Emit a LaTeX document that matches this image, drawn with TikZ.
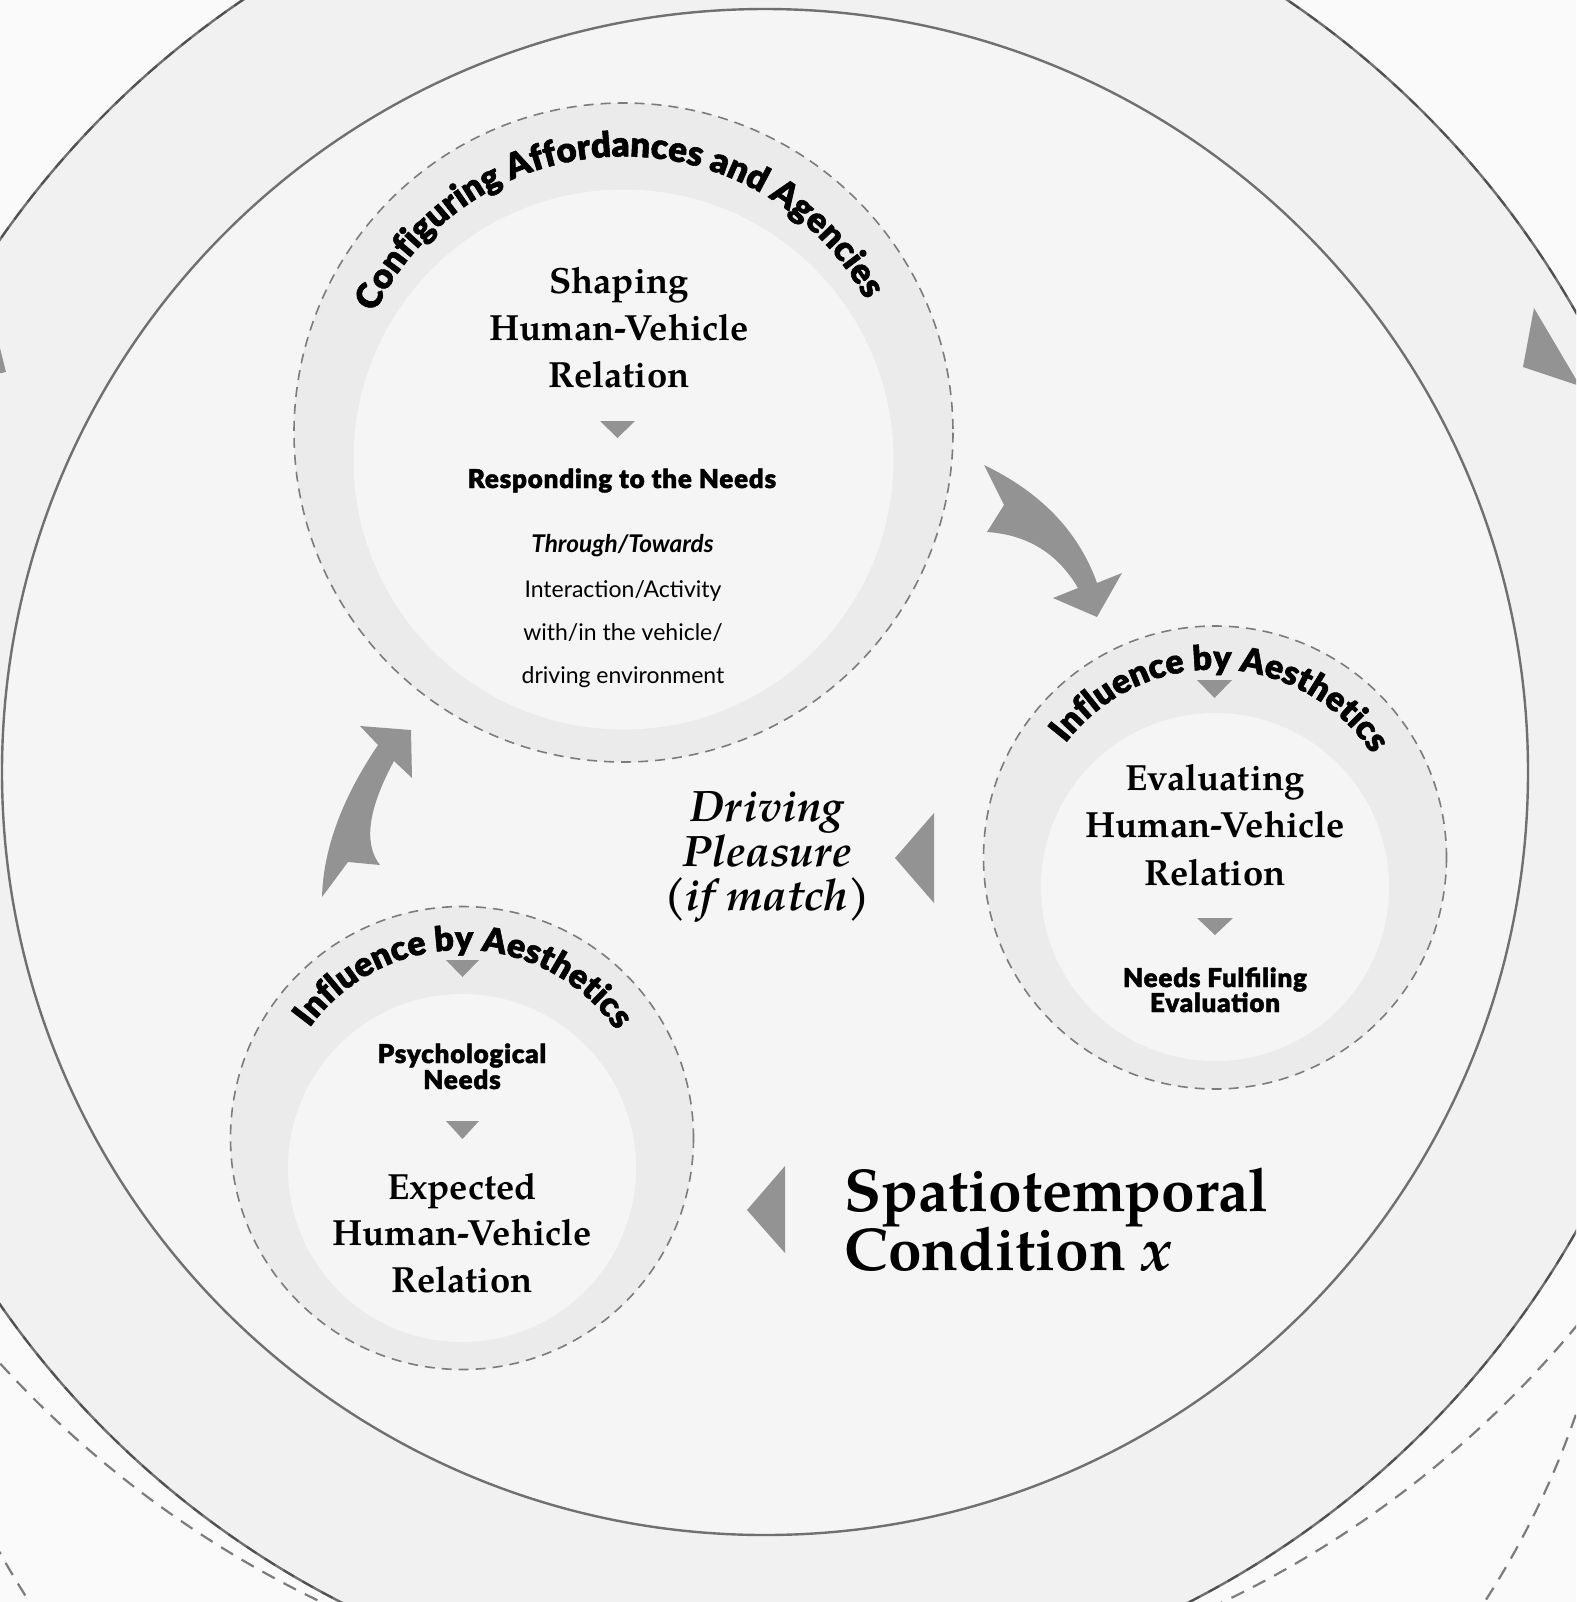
\documentclass[tikz,border=0pt]{standalone}
\usepackage{fontspec}
\setmainfont{TeX Gyre Pagella}
\newfontfamily\latoblack{Lato Black}[FakeBold=1.6, LetterSpace=3]
\newfontfamily\ringlato{Lato Black}[FakeBold=1.6]
\newfontfamily\lato{Lato}
\usetikzlibrary{decorations.text}
\definecolor{pageout}{HTML}{FAFAFA}
\definecolor{bandfill}{HTML}{F1F1F1}
\definecolor{corefill}{HTML}{F5F5F5}
\definecolor{ringfill}{HTML}{EBEBEB}
\definecolor{edgegray}{HTML}{707070}
\definecolor{dashgray}{HTML}{7C7C7C}
\definecolor{darkdash}{HTML}{505050}
\definecolor{arrowgray}{HTML}{939393}
\newcommand{\ringfont}{\ringlato\fontsize{17.5}{17.5}\selectfont}
\newcommand{\smallringfont}{\ringlato\fontsize{17}{17}\selectfont}
\tikzset{
  farring/.style={draw=dashgray, line width=1.1pt, dash pattern=on 7pt off 5pt},
  band/.style={fill=bandfill, draw=edgegray, line width=1.2pt},
  bandoverlay/.style={draw=darkdash, line width=1pt, dash pattern=on 6pt off 5pt},
  core/.style={fill=corefill, draw=edgegray, line width=1.2pt},
  cyclering/.style={fill=ringfill, draw=dashgray, line width=0.8pt, dash pattern=on 5pt off 3.5pt},
  cyclecore/.style={fill=corefill},
  pointer/.style={fill=arrowgray},
  serifhead/.style={font=\bfseries\fontsize{18.2}{20}\selectfont, anchor=base, inner sep=0pt},
  heavylabel/.style={font=\latoblack\fontsize{13}{14}\selectfont, anchor=base, inner sep=0pt},
  plainlabel/.style={font=\lato\fontsize{11.5}{13}\selectfont, anchor=base, inner sep=0pt},
  pleasure/.style={font=\bfseries\itshape\fontsize{22}{24}\selectfont, anchor=base, inner sep=0pt},
  condition/.style={font=\bfseries\fontsize{30.2}{32}\selectfont, anchor=base west, inner sep=0pt},
  ringtext/.style={decorate, decoration={text along path, text align=center, text={|\ringfont|#1}}},
  smallringtext/.style={decorate, decoration={text along path, text align=center, text={|\smallringfont|#1}}}
}

\begin{document}
\begin{tikzpicture}[x=0.5pt, y=-0.5pt]
  \path[use as bounding box] (0,0) rectangle (1576,1602);
  \clip (0,0) rectangle (1576,1602);
  \fill[pageout] (0,0) rectangle (1576,1602);

  % neighbouring cycles, cut by the page
  \draw[farring] (772,659) circle[radius=1045];
  \draw[farring] (757,1132) circle[radius=866];

  % condition x
  \coordinate (mid) at (765,772);
  \filldraw[band] (mid) circle[radius=932];
  \draw[bandoverlay] (mid) circle[radius=932];
  \filldraw[core] (mid) circle[radius=763];
  \fill[pointer] (1534,308) -- (1523,367) -- (1580,386) -- cycle;
  \fill[pointer] (-2,340) -- (6,372) -- (-30,380) -- cycle;

  % three cycle circles
  \coordinate (cfgO) at (623.5,432.5);
  \coordinate (evalO) at (1215,857.5);
  \coordinate (expO) at (462,1138);
  \filldraw[cyclering] (cfgO) circle[radius=329.5];
  \fill[cyclecore] (623.5,459.5) circle[radius=270];
  \filldraw[cyclering] (evalO) circle[radius=231.5];
  \fill[cyclecore] (1215,887) circle[radius=174];
  \filldraw[cyclering] (expO) circle[radius=231.5];
  \fill[cyclecore] (462,1168) circle[radius=174];

  \path[ringtext={Configuring Affordances and Agencies}] (cfgO) ++(178.5:276) arc[start angle=178.5, end angle=358.5, radius=276];
  \path[smallringtext={Influence by Aesthetics}] (evalO) ++(182:188) arc[start angle=182, end angle=362, radius=188];
  \path[smallringtext={Influence by Aesthetics}] (expO) ++(180.5:188) arc[start angle=180.5, end angle=360.5, radius=188];

  % shaping
  \node[serifhead] (shape1) at (619,293) {Shaping};
  \node[serifhead] (shape2) at (619,340) {Human-Vehicle};
  \node[serifhead] (shape3) at (619,387) {Relation};
  \fill[pointer] (600,421) -- (635,421) -- (617.5,438) -- cycle;
  \node[heavylabel] (resp) at (622,488) {Responding to the Needs};
  \node[plainlabel, font=\lato\bfseries\itshape\fontsize{12.2}{13}\selectfont] (thru) at (622.5,552) {Through/Towards};
  \node[plainlabel] (inter) at (623,597) {Interaction/Activity};
  \node[plainlabel] (within) at (623,640) {with/in the vehicle/};
  \node[plainlabel] (drivenv) at (623,683) {driving environment};

  % evaluating
  \fill[pointer] (1197,680) -- (1232,680) -- (1214.5,698) -- cycle;
  \node[serifhead] (eval1) at (1215,790) {Evaluating};
  \node[serifhead] (eval2) at (1215,837) {Human-Vehicle};
  \node[serifhead] (eval3) at (1215,885) {Relation};
  \fill[pointer] (1197,918) -- (1233,918) -- (1215,935) -- cycle;
  \node[heavylabel] (need1) at (1215,987) {Needs Fulfiling};
  \node[heavylabel] (need2) at (1215,1012) {Evaluation};

  % expected
  \fill[pointer] (446,960) -- (479,960) -- (462.5,977) -- cycle;
  \node[heavylabel] (psy1) at (462,1063) {Psychological};
  \node[heavylabel] (psy2) at (462,1089) {Needs};
  \fill[pointer] (446,1121) -- (479,1121) -- (462.5,1139) -- cycle;
  \node[serifhead] (exp1) at (462,1199) {Expected};
  \node[serifhead] (exp2) at (462,1245) {Human-Vehicle};
  \node[serifhead] (exp3) at (462,1292) {Relation};

  % driving pleasure and condition
  \node[pleasure] (drv1) at (767,821) {Driving};
  \node[pleasure] (drv2) at (767,866) {Pleasure};
  \node[pleasure] (drv3) at (767,910) {(if match)};
  \fill[pointer] (934,813) -- (934,903) -- (895,858) -- cycle;
  \node[condition] (spa1) at (844,1211) {Spatiotemporal};
  \node[condition] (spa2) at (844,1270) {Condition \textit{x}};
  \fill[pointer] (785,1166) -- (785,1253) -- (747,1210) -- cycle;

  % curved arrows between cycles
  \fill[pointer] (984,465) .. controls (1041,492.3) and (1078.7,531.7) .. (1097,583)
    -- (1122,573) -- (1097,617) -- (1053,598) -- (1078,588)
    .. controls (1057.7,553.3) and (1027.3,534.7) .. (987,532) -- (1004,505) -- cycle;
  \fill[pointer] (322,897) .. controls (323.3,849) and (342,798.3) .. (378,745)
    -- (360,726) -- (411,730) -- (412,778) -- (394,761)
    .. controls (368,809) and (363.3,843.7) .. (380,865) -- (348,862) -- cycle;
\end{tikzpicture}
\end{document}
